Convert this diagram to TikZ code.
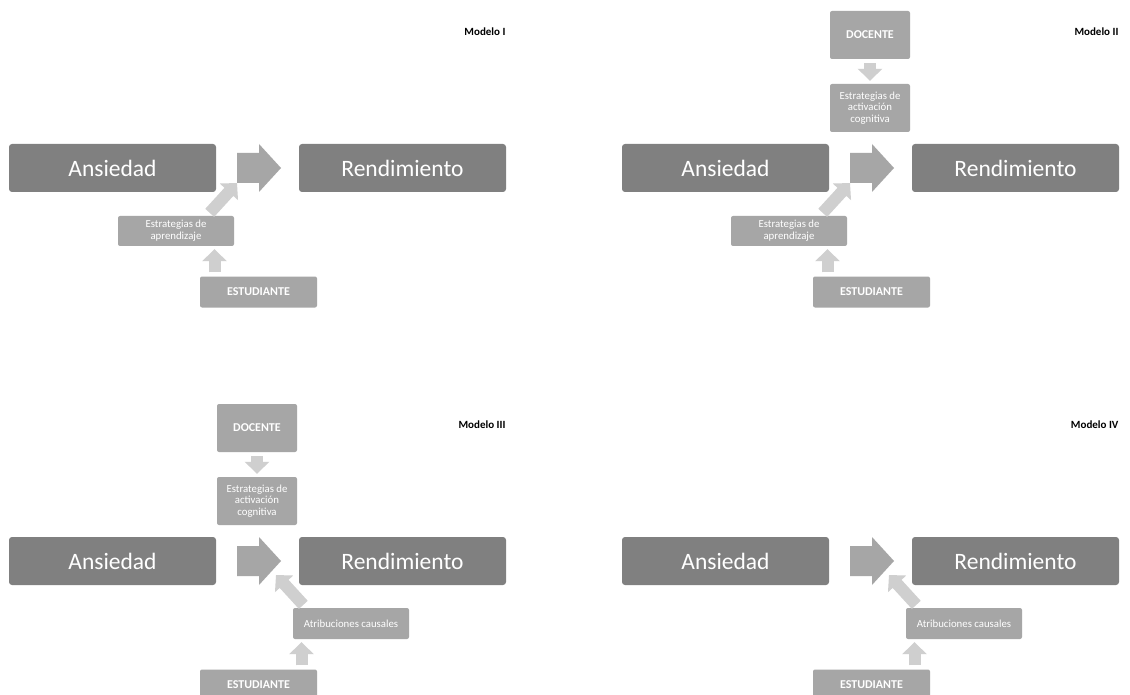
\documentclass[tikz,border=0pt]{standalone}
\usepackage{fontspec}
\setmainfont{Carlito}
\usetikzlibrary{arrows.meta}
\colorlet{darkbox}{black!50}
\colorlet{midbox}{black!35}
\colorlet{lightarrow}{black!19}
\tikzstyle{varbox}=[fill=darkbox,text=white,rounded corners=3pt,minimum width=207pt,minimum height=48pt,font=\fontsize{23.5}{28}\selectfont]
\tikzstyle{stratbox}=[fill=midbox,text=white,rounded corners=2pt,align=center,inner sep=0pt,font=\fontsize{10.8}{11.7}\selectfont]
\tikzstyle{agentbox}=[stratbox,font=\bfseries\fontsize{12}{13}\selectfont]
\tikzstyle{modlabel}=[anchor=east,font=\bfseries\fontsize{11}{12}\selectfont]
\tikzstyle{flow}=[fill=midbox]
\tikzstyle{push}=[draw=lightarrow,line width=12pt,-{Triangle[length=12pt,width=24pt]},shorten <=4pt,shorten >=3pt]

\begin{document}
\begin{tikzpicture}[x=1pt,y=-1pt]
  \useasboundingbox[fill=white] (0,0) rectangle (1130,695);
  % common part of the four models
  \foreach \p/\dx/\dy/\mname in {1/0/0/I,2/613/0/II,3/0/393/III,4/613/393/IV}{
    \begin{scope}[shift={(\dx,\dy)}]
      \node[varbox] (a\p) at (112.5,168) {Ansiedad};
      \node[varbox] (r\p) at (402.5,168) {Rendimiento};
      \fill[flow] (237,153) -- (259,153) -- (259,144) -- (281,168) -- (259,192) -- (259,183) -- (237,183) -- cycle;
      \node[modlabel] (m\p) at (509,32) {Modelo \mname};
      \node[agentbox,minimum width=117pt,minimum height=31pt] (e\p) at (258.5,292) {ESTUDIANTE};
    \end{scope}}
  % teacher
  \foreach \p/\dx/\dy in {2/613/0,3/0/393}{
    \begin{scope}[shift={(\dx,\dy)}]
      \node[agentbox,minimum width=80pt,minimum height=48pt] (d\p) at (257,35) {DOCENTE};
      \node[stratbox,minimum width=80pt,minimum height=48pt] (c\p) at (257,108) {Estrategias de\\activación\\cognitiva};
      \draw[push] (d\p) -- (c\p);
    \end{scope}}
  % learning strategies
  \foreach \p/\dx in {1/0,2/613}{
    \begin{scope}[shift={(\dx,0)}]
      \node[stratbox,minimum width=116pt,minimum height=30pt] (s\p) at (176,231) {Estrategias de\\aprendizaje};
      \coordinate (t\p) at (237,183);
      \draw[push] ([xshift=-44pt]e\p.north) -- ([xshift=-44pt]e\p.north |- s\p.south);
      \draw[push,shorten >=0pt] ([xshift=31pt]s\p.north) -- (t\p);
    \end{scope}}
  % causal attributions
  \foreach \p/\dx in {3/0,4/613}{
    \begin{scope}[shift={(\dx,393)}]
      \node[stratbox,minimum width=116pt,minimum height=31pt] (s\p) at (351,230.5) {Atribuciones causales};
      \coordinate (t\p) at (276,182);
      \draw[push] ([xshift=43pt]e\p.north) -- ([xshift=43pt]e\p.north |- s\p.south);
      \draw[push,shorten >=0pt] ([xshift=-45pt]s\p.north) -- (t\p);
    \end{scope}}
\end{tikzpicture}
\end{document}
